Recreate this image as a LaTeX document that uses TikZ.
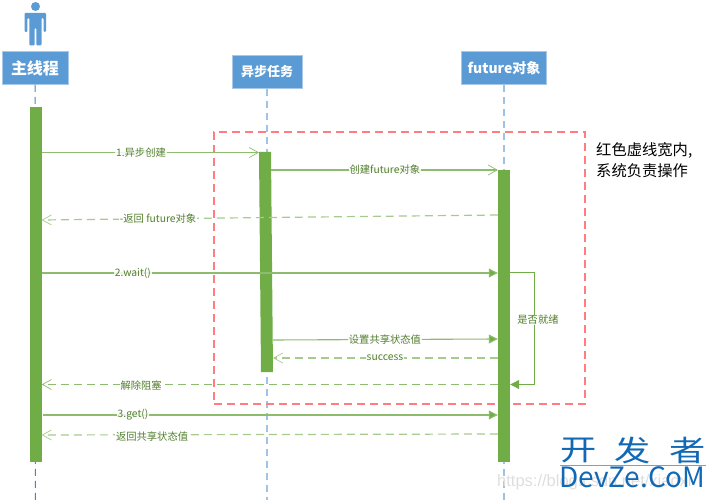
\documentclass[tikz,border=0pt]{standalone}
\usepackage{fontspec}
\setmainfont{Noto Sans CJK SC}
\newfontfamily\wmfont{Liberation Sans}
\usetikzlibrary{arrows.meta}
\definecolor{hdr}{HTML}{5B9BD5}
\definecolor{hdrb}{HTML}{A9C8E8}
\definecolor{bar}{HTML}{70AD47}
\definecolor{msg}{HTML}{8DBB6F}
\definecolor{msgd}{HTML}{A6CB8E}
\definecolor{lbl}{HTML}{54802F}
\definecolor{redbox}{HTML}{FF7C80}
\definecolor{lifeb}{HTML}{9DC3E6}
\definecolor{dev}{HTML}{1169B5}
\tikzset{
  head/.style={draw=hdrb,line width=0.8pt,fill=hdr,text=white,font=\bfseries\fontsize{#1}{#1}\selectfont,inner sep=0pt,anchor=center},
  life/.style={draw=lifeb,line width=1.2pt,dash pattern=on 7pt off 5pt},
  lifedark/.style={draw=hdr!85!black,line width=1pt,dash pattern=on 7pt off 5pt},
  actbar/.style={fill=bar,draw=none},
  callm/.style={draw=msg,line width=1.1pt,-{Straight Barb[length=9pt,width=10pt,line width=0.7pt]}},
  retm/.style={draw=msgd,line width=1.2pt,dash pattern=on 8pt off 5pt,-{Straight Barb[length=9pt,width=10pt,line width=0.7pt]}},
  syncm/.style={draw=msg,line width=1.1pt,-{Triangle[length=9pt,width=9pt,fill=bar]}},
  mlabel/.style={fill=white,fill opacity=0.85,text opacity=1,text=lbl,font=\fontsize{10.3}{10.3}\selectfont,inner xsep=1pt,inner ysep=0.5pt},
  devglyph/.style={text=dev,font=\fontsize{29}{29}\selectfont,inner sep=0pt,xscale=1.25,transform shape,anchor=center},
}
\begin{document}
\begin{tikzpicture}[x=1pt,y=-1pt]
\useasboundingbox (0,0) rectangle (716,500);
% actor
\fill[hdr] (35.5,6.5) coordinate (actorhead) circle (4.5);
\fill[hdr,rounded corners=1pt] (24.5,13) -- (46,13) -- (46,32) -- (43.5,32) -- (43.5,18) -- (41.5,18) -- (41.5,45.5) -- (36.3,45.5) -- (36.3,28) -- (34.7,28) -- (34.7,45.5) -- (29.3,45.5) -- (29.3,18) -- (27.3,18) -- (27.3,32) -- (24.5,32) -- cycle;
% lifelines
\coordinate (l1b) at (35.5,500);
\coordinate (l2b) at (267,500);
\coordinate (l3b) at (504,500);
% headers
\node[head=16,minimum width=66pt,minimum height=33pt] (h1) at (35,68) {主线程};
\node[head=13,minimum width=70pt,minimum height=33pt] (h2) at (267,72) {异步任务};
\node[head=14,minimum width=85pt,minimum height=33pt] (h3) at (504,68) {future对象};
\draw[lifedark] (h1.south) -- (l1b);
\draw[life] (h2.south) -- (l2b);
\draw[life] (h3.south) -- (l3b);
% red box
\node[draw=redbox,line width=1.3pt,dash pattern=on 8pt off 5pt,minimum width=371pt,minimum height=272pt,inner sep=0pt] (frame) at (399.5,268) {};
% activation bars
\node[actbar,minimum width=12pt,minimum height=355pt,inner sep=0pt] (a1) at (35.5,284.5) {};
\fill[bar] (259,152) coordinate (a2tl) -- (271,152) -- (273,372) -- (261,372) -- cycle;
\coordinate (a2b) at (271,170);
\coordinate (a2c) at (273,340);
\coordinate (a2d) at (273,358);
\coordinate (a2e) at (259,152.5);
\node[actbar,minimum width=12pt,minimum height=292pt,inner sep=0pt] (a3) at (504,316) {};
% messages
\draw[callm] (a1.east |- 0,152.5) -- node[mlabel,pos=0.457]{1.异步创建} (a2e);
\draw[callm] (a2b) -- node[mlabel,pos=0.502]{创建future对象} (a3.west |- 0,170);
\draw[retm] (a3.west |- 0,215) -- node[mlabel,pos=0.745]{-返回 future对象} (a1.east |- 0,220);
\draw[syncm] (a1.east |- 0,273) -- node[mlabel,pos=0.2]{2.wait()} (a3.west |- 0,273);
\draw[syncm] (a2c) -- node[mlabel,pos=0.498]{设置共享状态值} (a3.west |- 0,339);
\draw[retm] (a3.west |- 0,358) -- node[mlabel,pos=0.502]{success} (a2d);
\draw[retm,draw=msg] (a3.west |- 0,384.5) -- node[mlabel,pos=0.782,yshift=-1pt]{解除阻塞} (a1.east |- 0,384.5);
\draw[syncm] (43,415) -- node[mlabel,pos=0.198]{3.get()} (a3.west |- 0,415);
\draw[retm] (a3.west |- 0,434) -- node[mlabel,pos=0.758,yshift=-1.5pt]{返回共享状态值} (a1.east |- 0,435);
\draw[draw=bar,line width=1pt,-{Triangle[length=9pt,width=9pt,fill=bar]}] (a3.east |- 0,273) -- (534,273) -- node[mlabel,pos=0.42,xshift=4pt]{是否就绪} (534,384.5) -- (a3.east |- 0,384.5);
% note
\node[anchor=west,font=\fontsize{15.3}{15.3}\selectfont,inner sep=0pt] (note1) at (596,150) {红色虚线宽内,};
\node[anchor=west,font=\fontsize{15.3}{15.3}\selectfont,inner sep=0pt] (note2) at (596,171) {系统负责操作};
% watermark
\node[anchor=west,text=black!13,font=\wmfont\fontsize{16.5}{16.5}\selectfont,inner sep=0pt] (wm) at (497,482) {https://blog.csdn.net/xiaoxi};
\node[devglyph] (dev1) at (578.5,450) {开};
\node[devglyph] (dev2) at (633,450) {发};
\node[devglyph] (dev3) at (688,450) {者};
\draw[cyan!60!blue!60,line width=0.7pt] (560,465.5) -- (706,465.5);
\node[anchor=base,text=dev,font=\fontsize{28}{28}\selectfont,inner sep=0pt] (devlat) at (632.5,487) {DevZe.CoM};
\end{tikzpicture}
\end{document}
